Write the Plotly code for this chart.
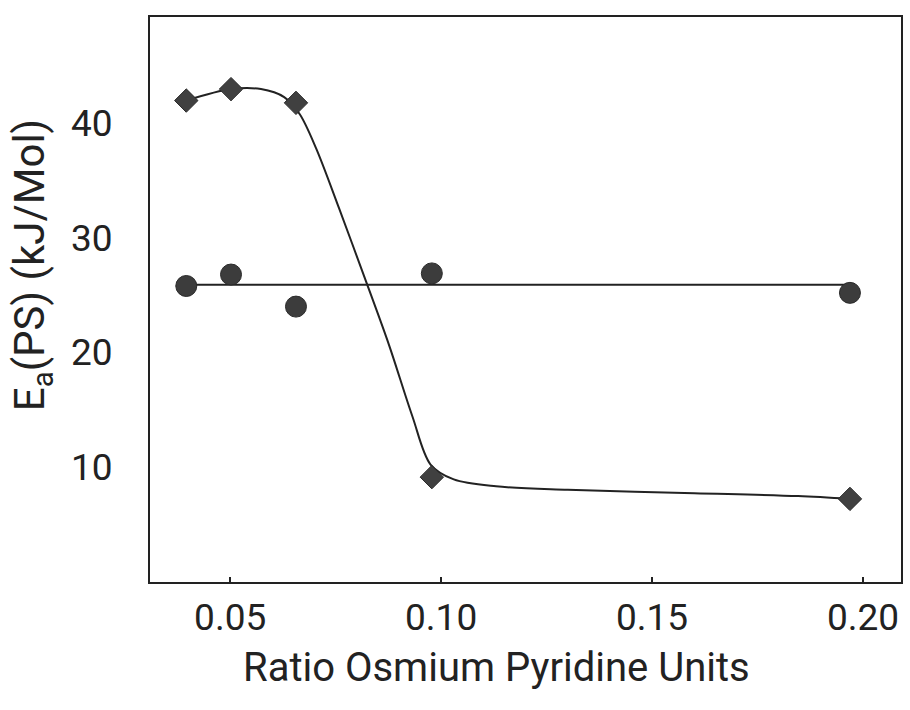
import plotly.graph_objects as go

# Data
ratio = [0.0396, 0.0502, 0.0656, 0.0978, 0.1969]
ea_diamond = [42.0, 43.0, 41.8, 9.1, 7.2]
ea_circle = [25.8, 26.8, 24.0, 26.9, 25.2]

# Hand-drawn fit curve through diamonds
fit_x = [0.0396, 0.0502, 0.0573, 0.0628, 0.0665, 0.0704, 0.0758, 0.0817, 0.0876,
         0.0932, 0.0975, 0.1030, 0.1130, 0.1300, 0.1600, 0.1846, 0.1969]
fit_y = [42.0, 43.0, 43.0, 42.3, 40.8, 37.8, 32.6, 26.7, 20.7,
         14.4, 10.2, 8.9, 8.3, 8.0, 7.7, 7.45, 7.2]

# Horizontal mean line for circles
mean_x = [0.0396, 0.1969]
mean_y = [25.9, 25.9]

xtick_vals = [0.05, 0.10, 0.15, 0.20]
xtick_text = ["0.05", "0.10", "0.15", "0.20"]
ytick_vals = [10, 20, 30, 40]
ytick_text = ["10", "20", "30", "40"]

FONT = "Roboto, Liberation Sans Narrow, DejaVu Sans Condensed, sans-serif"
INK = "#222222"

fig = go.Figure()
fig.add_trace(go.Scatter(x=fit_x, y=fit_y, mode="lines",
                         line=dict(color=INK, width=2, shape="spline", smoothing=0.9),
                         hoverinfo="skip", showlegend=False))
fig.add_trace(go.Scatter(x=mean_x, y=mean_y, mode="lines",
                         line=dict(color=INK, width=2),
                         hoverinfo="skip", showlegend=False))
fig.add_trace(go.Scatter(x=ratio, y=ea_diamond, mode="markers",
                         marker=dict(symbol="diamond", size=18, color="#404040",
                                     line=dict(color="#2a2a2a", width=1)),
                         showlegend=False))
fig.add_trace(go.Scatter(x=ratio, y=ea_circle, mode="markers",
                         marker=dict(symbol="circle", size=21, color="#3c3c3c",
                                     line=dict(color="#2a2a2a", width=1)),
                         showlegend=False))

fig.update_layout(
    width=910, height=710,
    margin=dict(l=150, r=7, t=17, b=128),
    paper_bgcolor="white", plot_bgcolor="white",
    font=dict(family=FONT, color=INK),
    xaxis=dict(range=[0.0310, 0.2090], showgrid=False, zeroline=False,
               showline=True, linecolor=INK, linewidth=2, mirror=True,
               ticks="inside", ticklen=5, tickwidth=2, tickcolor=INK,
               tickvals=xtick_vals, ticktext=xtick_text,
               tickfont=dict(size=37, family=FONT, color=INK),
               ticklabelstandoff=2),
    yaxis=dict(range=[-0.06, 49.3], showgrid=False, zeroline=False,
               showline=True, linecolor=INK, linewidth=2, mirror=True,
               ticks="", tickvals=ytick_vals, ticktext=ytick_text,
               tickfont=dict(size=37, family=FONT, color=INK),
               ticklabelstandoff=28),
    annotations=[
        dict(text="Ratio Osmium Pyridine Units", xref="paper", yref="paper",
             x=0.461, y=-0.152, xanchor="center", yanchor="middle",
             showarrow=False, font=dict(size=40, family=FONT, color=INK)),
        dict(text="E<sub>a</sub>(PS) (kJ/Mol)", xref="paper", yref="paper",
             x=-0.157, y=0.561, xanchor="center", yanchor="middle", textangle=-90,
             showarrow=False, font=dict(size=42, family=FONT, color=INK)),
    ],
)

fig.write_html("out.html")
